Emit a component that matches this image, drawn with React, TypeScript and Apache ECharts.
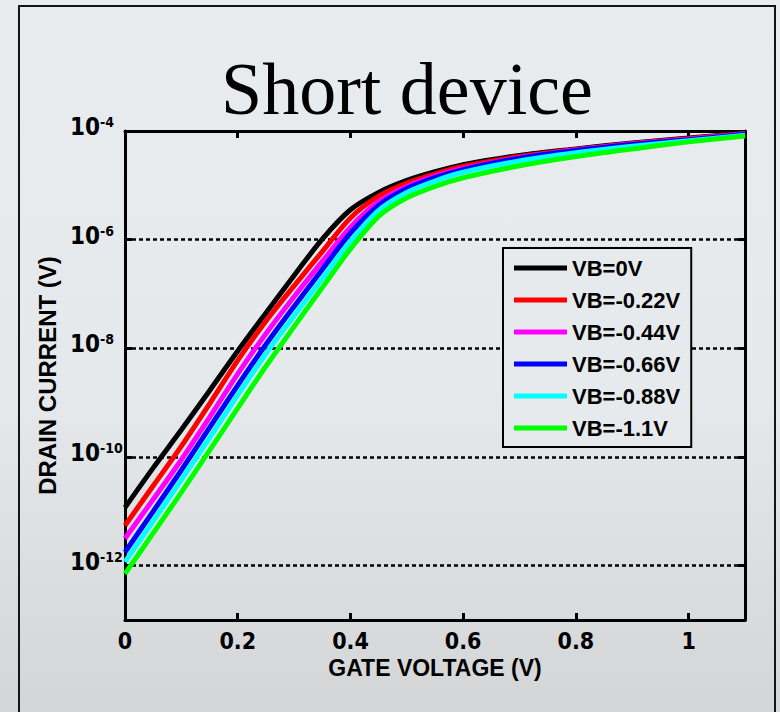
import React, { useEffect, useRef } from "react";
import * as echarts from "echarts";

// Gate voltage sample points (V)
const gateVoltage = [0, 0.05, 0.1, 0.15, 0.2, 0.25, 0.3, 0.35, 0.4, 0.45, 0.5, 0.55, 0.6, 0.7, 0.8, 0.9, 1.0, 1.1];

// Drain current, stored as log10 of the value (decades)
const logI_VB0 = [-10.93, -10.2, -9.5, -8.78, -8.05, -7.35, -6.66, -5.99, -5.45, -5.13, -4.91, -4.75, -4.62, -4.45, -4.33, -4.22, -4.13, -4.04];
const logI_VB022 = [-11.26, -10.53, -9.8, -9.02, -8.22, -7.5, -6.85, -6.22, -5.6, -5.2, -4.96, -4.79, -4.65, -4.47, -4.34, -4.23, -4.14, -4.05];
const logI_VB044 = [-11.5, -10.78, -10.05, -9.27, -8.47, -7.73, -7.05, -6.4, -5.77, -5.3, -5.02, -4.83, -4.69, -4.49, -4.35, -4.24, -4.15, -4.05];
const logI_VB066 = [-11.75, -11.0, -10.24, -9.46, -8.68, -7.93, -7.23, -6.55, -5.88, -5.37, -5.06, -4.86, -4.71, -4.5, -4.36, -4.25, -4.16, -4.06];
const logI_VB088 = [-11.93, -11.18, -10.42, -9.65, -8.86, -8.1, -7.4, -6.71, -6.03, -5.46, -5.13, -4.92, -4.76, -4.55, -4.4, -4.28, -4.18, -4.08];
const logI_VB110 = [-12.15, -11.4, -10.65, -9.88, -9.1, -8.33, -7.6, -6.88, -6.17, -5.57, -5.23, -5.02, -4.86, -4.64, -4.47, -4.33, -4.2, -4.09];

const seriesNames = ["VB=0V", "VB=-0.22V", "VB=-0.44V", "VB=-0.66V", "VB=-0.88V", "VB=-1.1V"];
const seriesColors = ["#000000", "#ff0000", "#ff00ff", "#0000ff", "#00ffff", "#00ff00"];
const seriesLogs = [logI_VB0, logI_VB022, logI_VB044, logI_VB066, logI_VB088, logI_VB110];

const xTickValues = [0, 0.2, 0.4, 0.6, 0.8, 1.0];
const yTickExponents = [-12, -10, -8, -6, -4];
const yMinExp = -13;
const yMaxExp = -4;

const SANS = "'Liberation Sans', Arial, Helvetica, sans-serif";
const NARROW = "'Liberation Sans Narrow', 'DejaVu Sans Condensed', 'Liberation Sans', Arial, sans-serif";
const SERIF = "'Liberation Serif', 'Times New Roman', serif";

export default function App() {
  const ref = useRef<HTMLDivElement>(null);

  useEffect(() => {
    if (!ref.current) return;
    const chart = echarts.init(ref.current, null, { renderer: "svg" });
    const yTicks = yTickExponents.map((e) => Math.pow(10, e));
    const yMin = Math.pow(10, yMinExp);
    const yMax = Math.pow(10, yMaxExp);

    const axisLineStyle = { color: "#000", width: 3 };

    chart.setOption({
      animation: false,
      backgroundColor: "transparent",
      title: {
        text: "Short device",
        left: 221,
        top: 52,
        padding: 0,
        textStyle: { fontFamily: SERIF, fontSize: 74, fontWeight: "normal", color: "#000" },
      },
      graphic: [
        {
          type: "rect",
          shape: { x: 19, y: 6, width: 756, height: 740 },
          style: { fill: "none", stroke: "#151515", lineWidth: 2 },
          silent: true,
          z: 0,
        },
      ],
      grid: { left: 125, top: 131, right: 35, bottom: 92, containLabel: false },
      legend: {
        orient: "vertical",
        left: 503,
        top: 248,
        padding: [9, 11, 8, 11],
        itemGap: 10,
        itemWidth: 53,
        itemHeight: 5,
        icon: "rect",
        backgroundColor: "#e7eaed",
        borderColor: "#000",
        borderWidth: 2,
        borderRadius: 0,
        data: seriesNames,
        textStyle: { fontFamily: SANS, fontSize: 22, fontWeight: "bold", color: "#000", lineHeight: 22 },
      },
      xAxis: [
        {
          type: "value",
          min: 0,
          max: 1.1,
          position: "bottom",
          name: "GATE VOLTAGE (V)",
          nameLocation: "middle",
          nameGap: 36,
          nameMoveOverlap: false,
          nameTextStyle: { fontFamily: SANS, fontSize: 23, fontWeight: "bold", color: "#000" },
          axisLine: { show: true, onZero: false, lineStyle: axisLineStyle },
          axisTick: { show: true, inside: true, length: 7, customValues: xTickValues, lineStyle: { color: "#000", width: 3 } },
          axisLabel: {
            customValues: xTickValues,
            margin: 9,
            fontFamily: NARROW,
            fontSize: 23,
            fontWeight: "bold",
            color: "#000",
            formatter: (v: number) => String(Math.round(v * 10) / 10),
          },
          splitLine: { show: false },
        },
        {
          type: "value",
          min: 0,
          max: 1.1,
          position: "top",
          axisLine: { show: true, onZero: false, lineStyle: axisLineStyle },
          axisTick: { show: true, inside: true, length: 7, customValues: xTickValues, lineStyle: { color: "#000", width: 3 } },
          axisLabel: { show: false },
          splitLine: { show: false },
        },
      ],
      yAxis: [
        {
          type: "log",
          logBase: 10,
          min: yMin,
          max: yMax,
          position: "left",
          name: "DRAIN CURRENT (V)",
          nameLocation: "middle",
          nameGap: 66,
          nameMoveOverlap: false,
          nameTextStyle: { fontFamily: SANS, fontSize: 24, fontWeight: "bold", color: "#000" },
          axisLine: { show: true, onZero: false, lineStyle: axisLineStyle },
          axisTick: { show: true, inside: true, length: 7, customValues: yTicks, lineStyle: { color: "#000", width: 3 } },
          axisLabel: {
            customValues: yTicks,
            margin: 55,
            align: "left",
            fontFamily: NARROW,
            fontSize: 24,
            fontWeight: "bold",
            color: "#000",
            padding: [0, 0, 8, 0],
            formatter: (v: number) => {
              const e = Math.round(Math.log10(v));
              return "{b|10}{s|" + e + "}";
            },
            rich: {
              b: {
                fontFamily: NARROW,
                fontSize: 24,
                fontWeight: "bold",
                color: "#000",
                lineHeight: 24,
                padding: [8, 0, 0, 0],
                verticalAlign: "bottom",
              },
              s: {
                fontFamily: NARROW,
                fontSize: 14,
                fontWeight: "bold",
                color: "#000",
                lineHeight: 20,
                verticalAlign: "top",
              },
            },
          },
          splitLine: {
            show: true,
            lineStyle: { color: "#000", width: 2.5, type: [4, 3] },
          },
        },
        {
          type: "log",
          logBase: 10,
          min: yMin,
          max: yMax,
          position: "right",
          axisLine: { show: true, onZero: false, lineStyle: axisLineStyle },
          axisTick: { show: true, inside: true, length: 7, customValues: yTicks, lineStyle: { color: "#000", width: 3 } },
          axisLabel: { show: false },
          splitLine: { show: false },
        },
      ],
      series: seriesNames.map((name, i) => ({
        name,
        type: "line",
        xAxisIndex: 0,
        yAxisIndex: 0,
        showSymbol: false,
        symbol: "none",
        smooth: 0.3,
        z: 3,
        itemStyle: { color: seriesColors[i] },
        lineStyle: { color: seriesColors[i], width: 5 },
        data: gateVoltage.map((v, k) => [v, Math.pow(10, seriesLogs[i][k])]),
      })),
    });

    return () => chart.dispose();
  }, []);

  return (
    <div
      ref={ref}
      style={{
        position: "fixed",
        left: 0,
        top: 0,
        width: 780,
        height: 712,
        background: "linear-gradient(180deg, #e9ecef 0%, #e6e9ec 55%, #dcdee0 78%, #d3d5d7 100%)",
      }}
    />
  );
}
